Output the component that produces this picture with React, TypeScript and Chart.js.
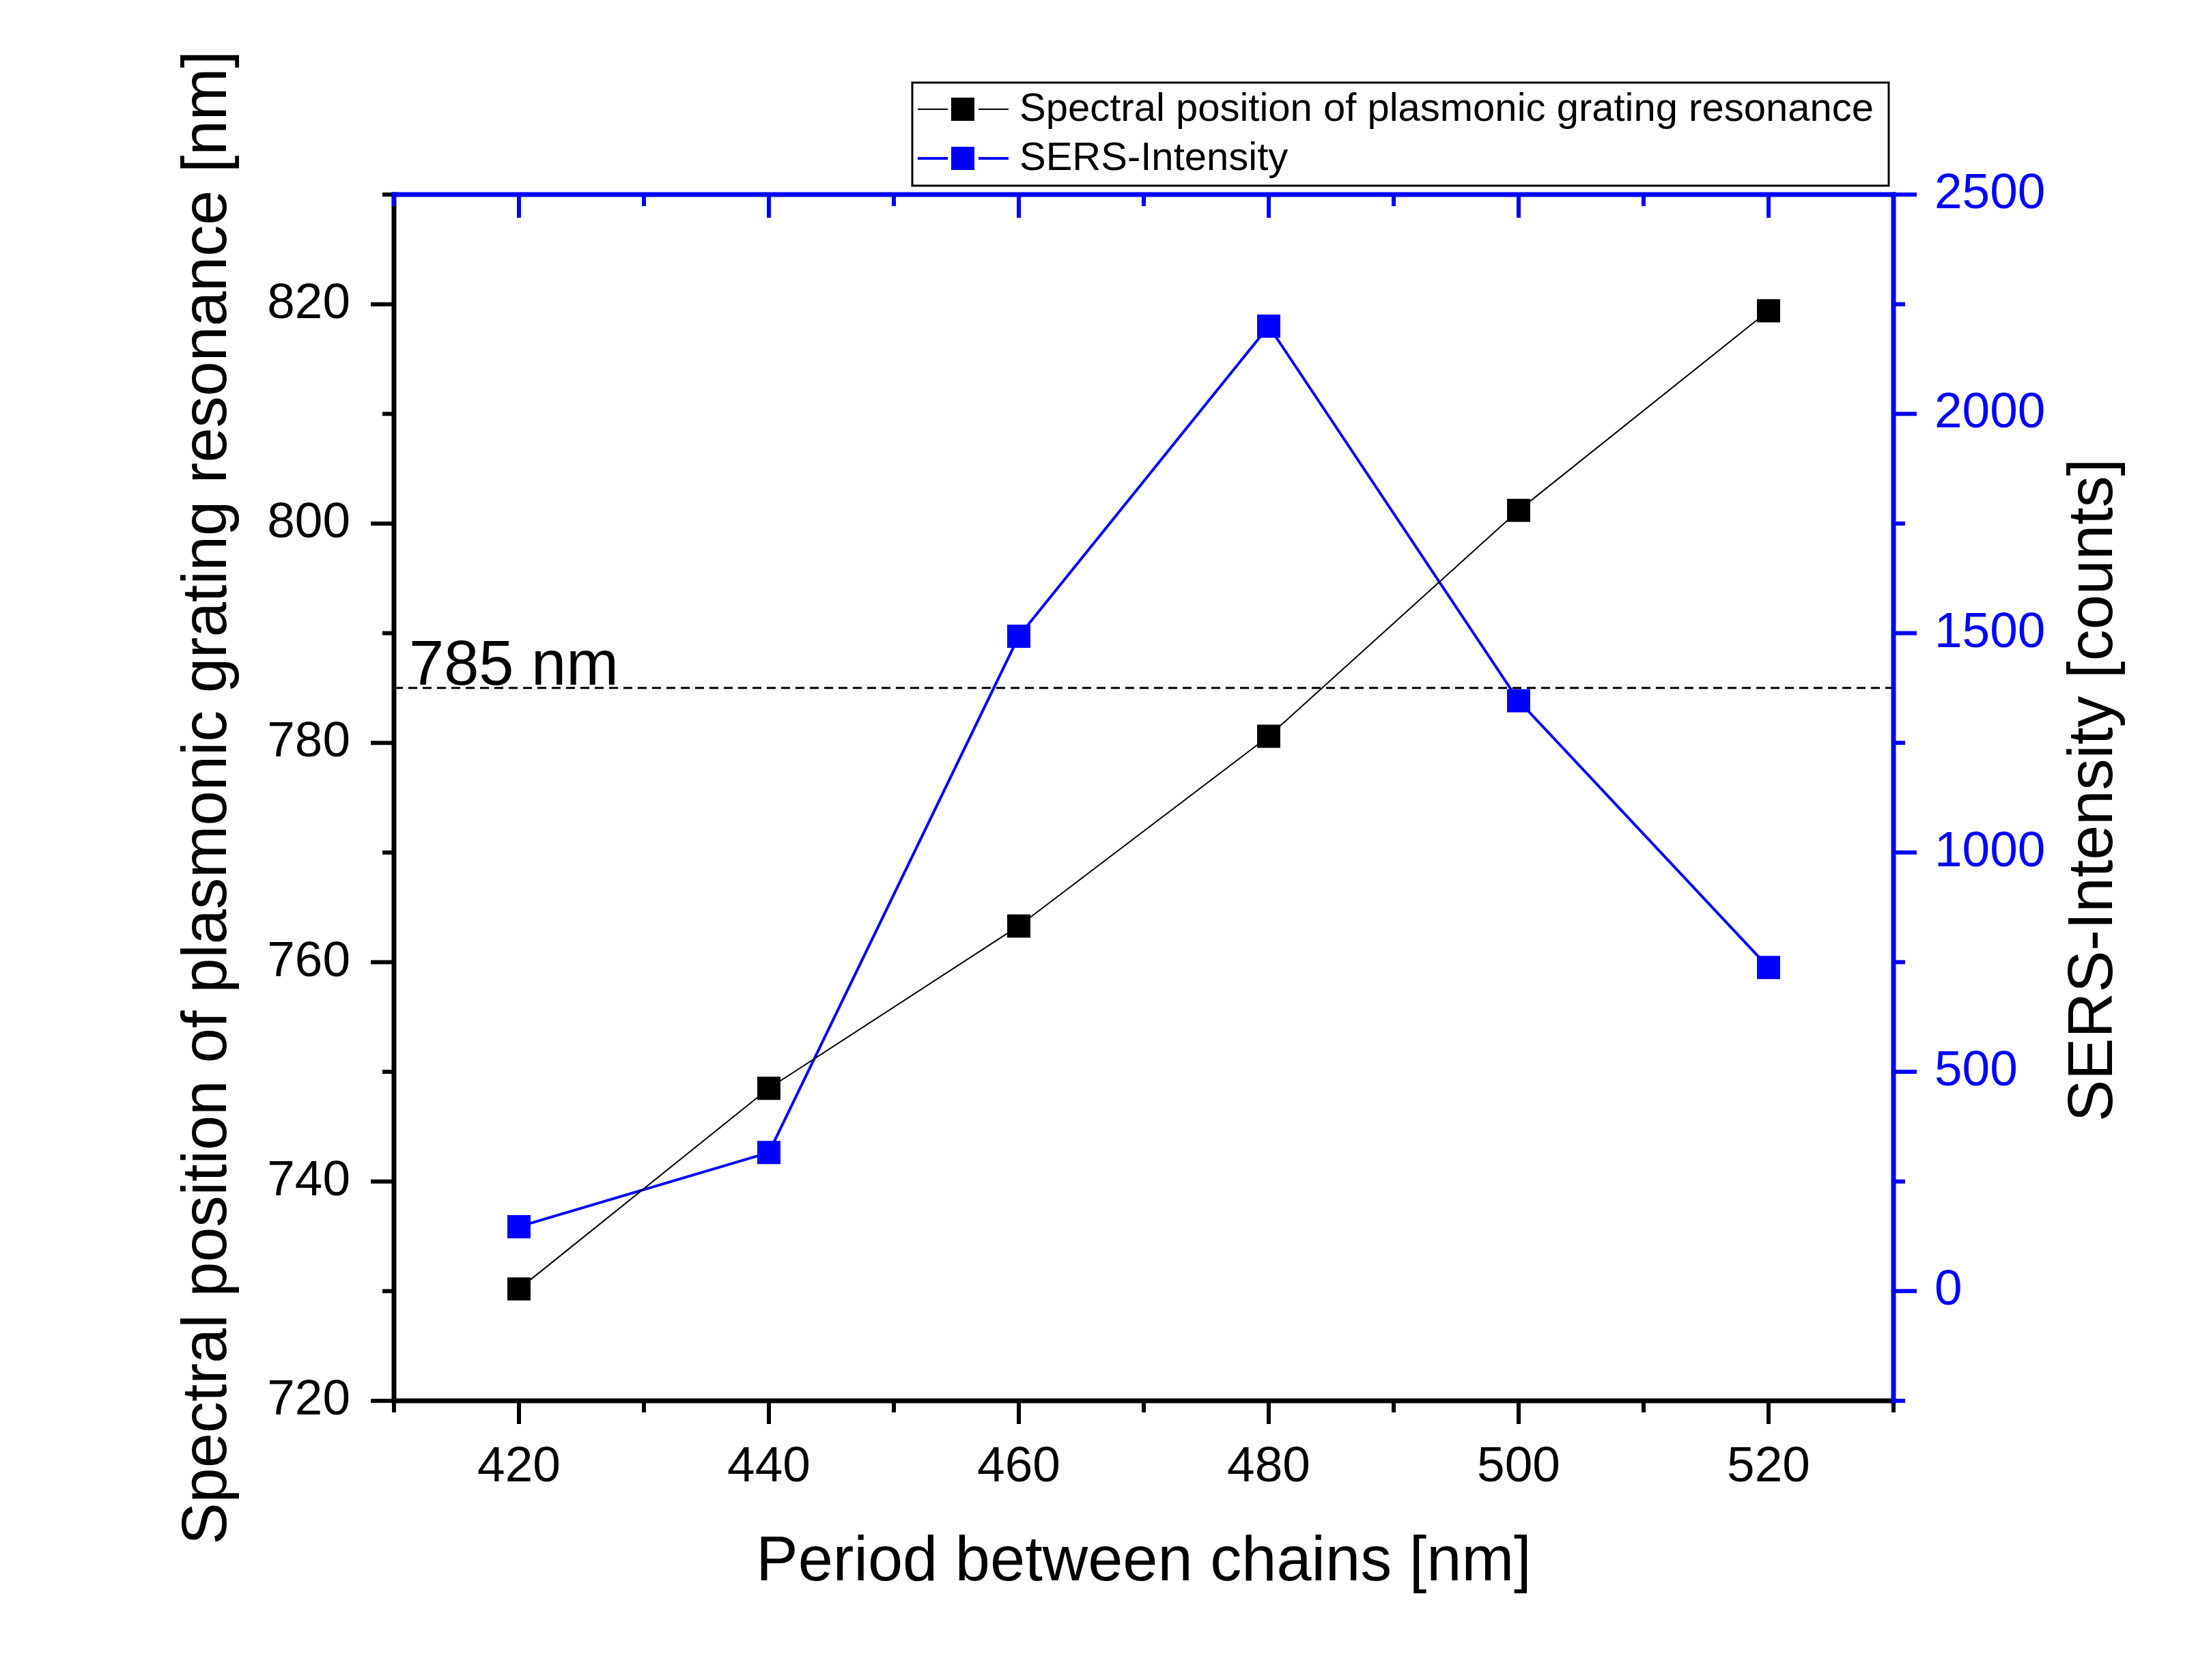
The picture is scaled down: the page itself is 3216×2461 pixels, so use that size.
import { useEffect, useRef } from 'react';
import { Chart, registerables } from 'chart.js';

Chart.register(...registerables);

const W = 3216;
const H = 2461;

// data
const periods = [420, 440, 460, 480, 500, 520];
const resonance = [730.2, 748.5, 763.3, 780.6, 801.2, 819.4];
const sersIntensity = [147, 316, 1493, 2200, 1346, 738];
const laserLine = 785;
const laserLabel = '785 nm';

const xRange = [410, 530];
const yRange = [720, 830];
const y2Range = [-250, 2500];

const seriesNames = ['Spectral position of plasmonic grating resonance', 'SERS-Intensity'];
const xTitle = 'Period between chains [nm]';
const yTitle = 'Spectral position of plasmonic grating resonance [nm]';
const y2Title = 'SERS-Intensity [counts]';

const FONT = '"Liberation Sans", Arial, Helvetica, sans-serif';
const BLACK = '#000000';
const BLUE = '#0000ff';

const tickFont = { family: FONT, size: 73 };
const titleFont = { family: FONT, size: 92 };

// axes, ticks, right title, legend and the 785 nm label (Origin-style frame)
const framePlugin = {
  id: 'originFrame',
  afterDraw(chart: any) {
    const { ctx, chartArea: a, scales } = chart;
    const { x, y, y2 } = scales;
    const AXIS_W = 7;
    const TICK_W = 6;
    const MAJOR = 34;
    const MINOR = 17;
    const h = AXIS_W / 2;
    const len = (t: any) => (t.label !== '' ? MAJOR : MINOR);
    const seg = (x1: number, y1: number, x2: number, y2p: number) => {
      ctx.beginPath();
      ctx.moveTo(x1, y1);
      ctx.lineTo(x2, y2p);
      ctx.stroke();
    };

    ctx.save();
    ctx.lineCap = 'butt';

    // black bottom + left
    ctx.strokeStyle = BLACK;
    ctx.lineWidth = TICK_W;
    x.ticks.forEach((t: any) => {
      const px = x.getPixelForValue(t.value);
      seg(px, a.bottom, px, a.bottom + len(t));
    });
    y.ticks.forEach((t: any) => {
      const py = y.getPixelForValue(t.value);
      seg(a.left, py, a.left - len(t), py);
    });
    ctx.lineWidth = AXIS_W;
    seg(a.left - h, a.bottom, a.right + h, a.bottom);
    seg(a.left, a.top - h, a.left, a.bottom + h);

    // blue top + right
    ctx.strokeStyle = BLUE;
    ctx.lineWidth = TICK_W;
    x.ticks.forEach((t: any) => {
      const px = x.getPixelForValue(t.value);
      seg(px, a.top, px, a.top + len(t));
    });
    y2.ticks.forEach((t: any) => {
      const py = y2.getPixelForValue(t.value);
      seg(a.right, py, a.right + len(t), py);
    });
    ctx.lineWidth = AXIS_W;
    seg(a.left - h, a.top, a.right + h, a.top);
    seg(a.right, a.top - h, a.right, a.bottom + h);

    // right axis title, reads bottom to top
    ctx.save();
    ctx.translate(3068, (a.top + a.bottom) / 2 - 11);
    ctx.rotate(-Math.PI / 2);
    ctx.fillStyle = BLACK;
    ctx.font = `92px ${FONT}`;
    ctx.textAlign = 'center';
    ctx.textBaseline = 'middle';
    ctx.fillText(y2Title, 0, 0);
    ctx.restore();

    // 785 nm label
    ctx.fillStyle = BLACK;
    ctx.font = `92px ${FONT}`;
    ctx.textAlign = 'left';
    ctx.textBaseline = 'alphabetic';
    ctx.fillText(laserLabel, a.left + 22, y.getPixelForValue(laserLine) - 5);

    // legend box
    const bx = 1336;
    const by = 121;
    const bw = 1430;
    const bh = 151;
    ctx.fillStyle = '#ffffff';
    ctx.fillRect(bx, by, bw, bh);
    ctx.strokeStyle = BLACK;
    ctx.lineWidth = 3;
    ctx.strokeRect(bx, by, bw, bh);
    const rows = [160, 232];
    ctx.font = `58px ${FONT}`;
    ctx.textBaseline = 'middle';
    chart.data.datasets.slice(0, 2).forEach((ds: any, i: number) => {
      const ry = rows[i];
      ctx.strokeStyle = ds.borderColor;
      ctx.lineWidth = ds.borderWidth;
      seg(1344, ry, 1388, ry);
      seg(1433, ry, 1477, ry);
      ctx.fillStyle = ds.pointBackgroundColor;
      ctx.fillRect(1393, ry - 17, 34, 34);
      ctx.fillStyle = BLACK;
      ctx.fillText(ds.label, 1493, ry + 1);
    });

    ctx.restore();
  },
};

const App = () => {
  const canvasRef = useRef<HTMLCanvasElement | null>(null);

  useEffect(() => {
    document.body.style.margin = '0';
    if (!canvasRef.current) return;
    const ctx = canvasRef.current.getContext('2d');
    if (!ctx) return;

    const chart = new Chart(ctx, {
      type: 'line',
      data: {
        datasets: [
          {
            label: seriesNames[0],
            data: periods.map((p, i) => ({ x: p, y: resonance[i] })),
            yAxisID: 'y',
            borderColor: BLACK,
            borderWidth: 2,
            pointStyle: 'rect',
            pointRadius: 24,
            pointBorderWidth: 0,
            pointBackgroundColor: BLACK,
            tension: 0,
          },
          {
            label: seriesNames[1],
            data: periods.map((p, i) => ({ x: p, y: sersIntensity[i] })),
            yAxisID: 'y2',
            borderColor: BLUE,
            borderWidth: 4,
            pointStyle: 'rect',
            pointRadius: 24,
            pointBorderWidth: 0,
            pointBackgroundColor: BLUE,
            tension: 0,
          },
          {
            label: laserLabel,
            data: [
              { x: xRange[0], y: laserLine },
              { x: xRange[1], y: laserLine },
            ],
            yAxisID: 'y',
            borderColor: BLACK,
            borderWidth: 3,
            borderDash: [13, 8],
            pointRadius: 0,
          },
        ],
      },
      options: {
        animation: false,
        responsive: false,
        devicePixelRatio: 1,
        layout: { padding: { top: 285, left: 0, right: 0, bottom: 0 } },
        plugins: {
          legend: { display: false },
          tooltip: { enabled: false },
        },
        scales: {
          x: {
            type: 'linear',
            position: 'bottom',
            min: xRange[0],
            max: xRange[1],
            afterFit: (s: any) => {
              s.height = 409;
            },
            grid: { display: false, drawTicks: false },
            border: { display: false },
            ticks: {
              stepSize: 10,
              autoSkip: false,
              maxRotation: 0,
              padding: 54,
              color: BLACK,
              font: tickFont,
              callback: (v: any) => (Number(v) % 20 === 0 ? String(v) : ''),
            },
            title: {
              display: true,
              text: xTitle,
              color: BLACK,
              font: titleFont,
              padding: { top: 0, bottom: 116 },
            },
          },
          y: {
            type: 'linear',
            position: 'left',
            min: yRange[0],
            max: yRange[1],
            afterFit: (s: any) => {
              s.width = 577;
            },
            grid: { display: false, drawTicks: false },
            border: { display: false },
            ticks: {
              stepSize: 10,
              autoSkip: false,
              padding: 64,
              color: BLACK,
              font: tickFont,
              callback: (v: any) => ((Number(v) - yRange[0]) % 20 === 0 ? String(v) : ''),
            },
            title: {
              display: true,
              text: yTitle,
              color: BLACK,
              font: titleFont,
              padding: { top: 250, bottom: 0 },
            },
          },
          y2: {
            type: 'linear',
            position: 'right',
            min: y2Range[0],
            max: y2Range[1],
            afterFit: (s: any) => {
              s.width = W - 2773;
            },
            grid: { display: false, drawTicks: false },
            border: { display: false },
            ticks: {
              stepSize: 250,
              autoSkip: false,
              padding: 60,
              color: BLUE,
              font: tickFont,
              callback: (v: any) => (Number(v) % 500 === 0 ? String(v) : ''),
            },
          },
        },
      },
      plugins: [framePlugin],
    } as any);

    return () => {
      chart.destroy();
    };
  }, []);

  return (
    <div style={{ position: 'absolute', left: 0, top: 0, width: W, height: H, background: '#ffffff' }}>
      <canvas ref={canvasRef} width={W} height={H} style={{ width: W, height: H, display: 'block' }} />
    </div>
  );
};

export default App;
